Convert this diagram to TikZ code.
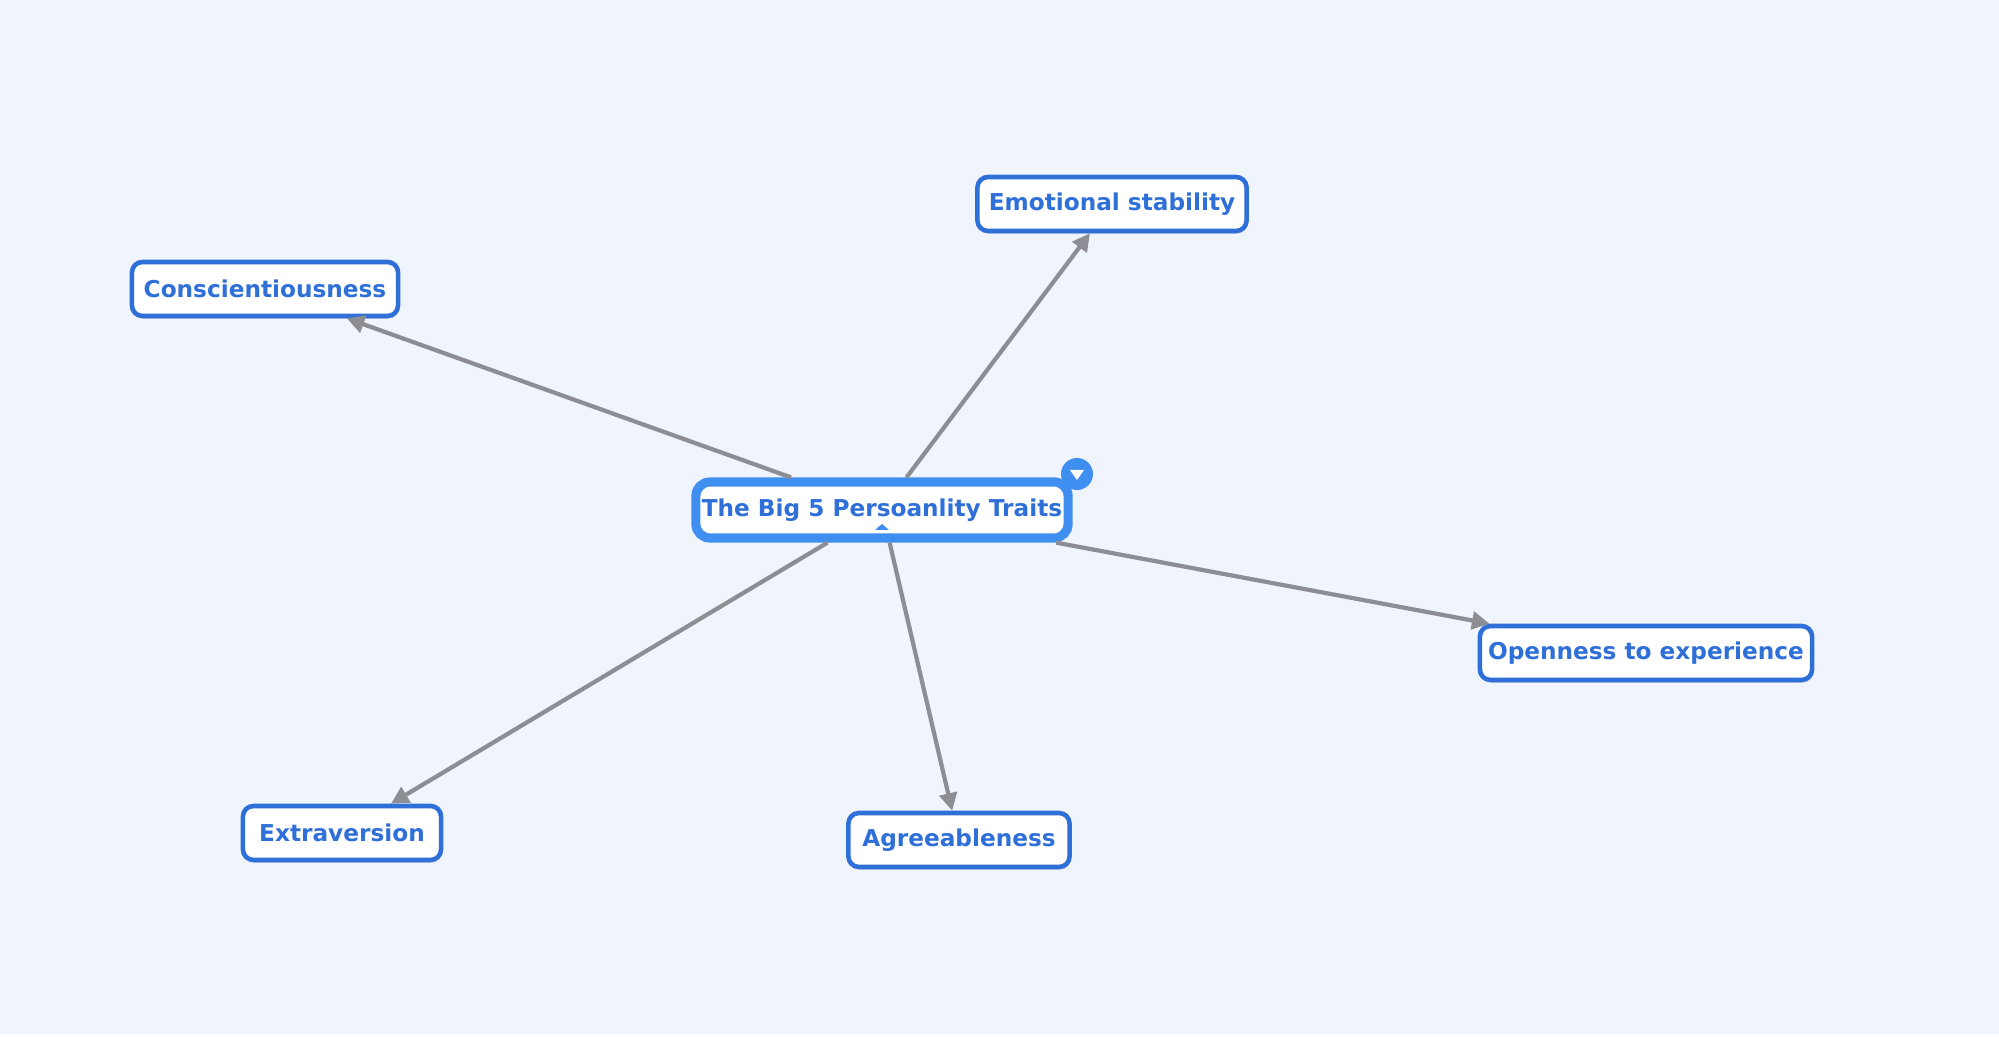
\documentclass[tikz,border=0pt]{standalone}
\usepackage{fontspec}
\setmainfont{DejaVu Sans}
\usetikzlibrary{arrows.meta,shadows}
\definecolor{bgblue}{HTML}{F0F4FC}
\definecolor{topicblue}{HTML}{2E6FD8}
\definecolor{selblue}{HTML}{3F8FF0}
\definecolor{linkgray}{HTML}{8C8E94}
\tikzset{
  topic/.style={draw=topicblue, line width=1.3pt, fill=white, rounded corners=3pt,
    text=topicblue, font=\fontsize{6.6pt}{8pt}\selectfont\bfseries,
    minimum height=0.54cm, inner sep=0pt, drop shadow={shadow xshift=0.3pt,shadow yshift=-0.8pt,opacity=0.25}},
  central/.style={topic, draw=selblue, line width=2.6pt, minimum height=0.56cm, rounded corners=4pt},
  link/.style={draw=linkgray, line width=1.2pt, -{Triangle[length=5pt,width=5pt]}}
}
\begin{document}
\begin{tikzpicture}[x=0.01cm,y=-0.01cm]
  \fill[white] (0,0) rectangle (1999,1037);
  \fill[bgblue] (0,0) rectangle (1999,1034);
  \useasboundingbox (0,0) rectangle (1999,1037);
  \node (root) [central, minimum width=3.72cm] at (882,510) {The Big 5 Persoanlity Traits};
  \node (emo) [topic, minimum width=2.69cm] at (1112,204) {Emotional stability};
  \node (con) [topic, minimum width=2.66cm] at (265,289) {Conscientiousness};
  \node (ope) [topic, minimum width=3.32cm] at (1646,653) {Openness to experience};
  \node (ext) [topic, minimum width=1.98cm] at (342,833) {Extraversion};
  \node (agr) [topic, minimum width=2.21cm] at (959,840) {Agreeableness};
  \fill[selblue] (1077,474) circle (16);
  \fill[white] (1070,470) -- (1084,470) -- (1077,480) -- cycle;
  \fill[selblue] (875,530) -- (882,524) -- (889,530) -- cycle;
  \draw[link] (root) -- (emo);
  \draw[link] (root) -- (con);
  \draw[link] (root) -- (ope);
  \draw[link] (root) -- (ext);
  \draw[link] (root) -- (agr);
\end{tikzpicture}
\end{document}
